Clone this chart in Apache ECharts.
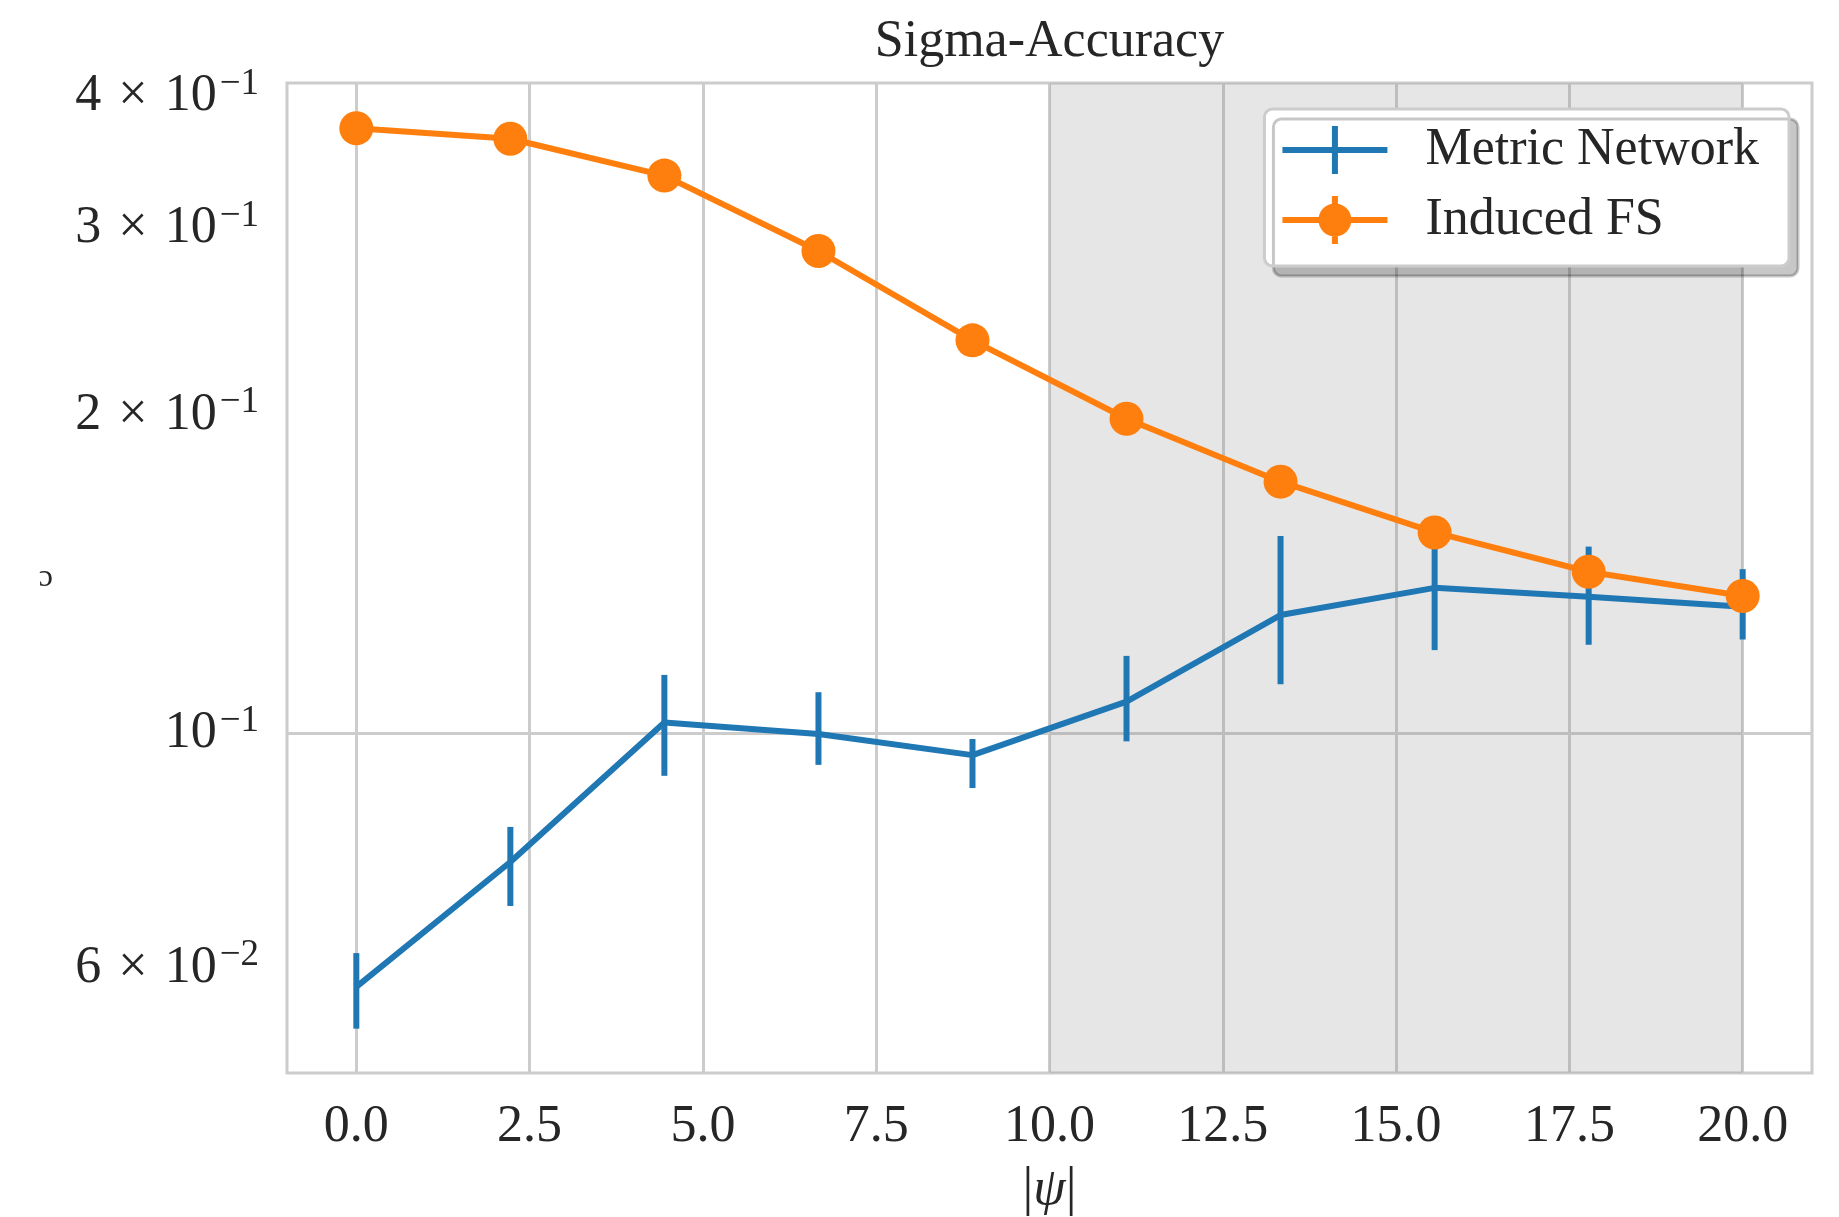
<!DOCTYPE html>
<html>
<head>
<meta charset="utf-8">
<script src="https://cdn.jsdelivr.net/npm/echarts@6/dist/echarts.min.js"></script>
<style>
html,body{margin:0;padding:0;background:#fff;}
#chart{width:1839px;height:1217px;}
</style>
</head>
<body>
<div id="chart"></div>
<script>
// ---- data ----
const psi = [0, 2.222, 4.444, 6.667, 8.889, 11.111, 13.333, 15.556, 17.778, 20];
const metricNetwork = [0.0576, 0.0756, 0.1024, 0.0999, 0.0954, 0.1072, 0.1294, 0.1373, 0.1347, 0.1318];
const metricNetworkLow = [0.0526, 0.0687, 0.0912, 0.0934, 0.0888, 0.0983, 0.1113, 0.1199, 0.1213, 0.1227];
const metricNetworkHigh = [0.0620, 0.0816, 0.1136, 0.1094, 0.0988, 0.1184, 0.1537, 0.1547, 0.1502, 0.1430];
const inducedFS = [0.3733, 0.3649, 0.3368, 0.2858, 0.2353, 0.1984, 0.1730, 0.1549, 0.1422, 0.1349];
const xTickValues = [0, 2.5, 5, 7.5, 10, 12.5, 15, 17.5, 20];
const xTickLabels = ['0.0', '2.5', '5.0', '7.5', '10.0', '12.5', '15.0', '17.5', '20.0'];
const yTickValues = [0.06, 0.1, 0.2, 0.3, 0.4];
const yTickLabels = ['6 × 10^−2', '10^−1', '2 × 10^−1', '3 × 10^−1', '4 × 10^−1'];
const yGridValues = [0.1];
const shadedRange = [10, 20];

const FONT = '"Liberation Serif", "DejaVu Serif", serif';
const TXT = '#262626';
const BLUE = '#1f77b4';
const ORANGE = '#ff7f0e';

const chart = echarts.init(document.getElementById('chart'), null, {renderer: 'canvas'});

function errItem(params, api) {
  const x = api.value(0), lo = api.value(1), hi = api.value(2);
  const p1 = api.coord([x, lo]);
  const p2 = api.coord([x, hi]);
  return {
    type: 'line',
    shape: {x1: p1[0], y1: p1[1], x2: p2[0], y2: p2[1]},
    style: {stroke: api.visual('color'), lineWidth: 6, lineCap: 'butt'}
  };
}

const blueIcon = 'path://M0,21 H105 V27 H0 Z M49.5,0 H55.5 V48 H49.5 Z M138,24 L138.05,24 L138.05,24.05 Z';
const orangeIcon = 'path://M0,21 H105 V27 H0 Z M49.5,0 H55.5 V48 H49.5 Z M36,24 A16.5,16.5 0 1 1 69,24 A16.5,16.5 0 1 1 36,24 Z M138,24 L138.05,24 L138.05,24.05 Z';

const option = {
  backgroundColor: '#ffffff',
  animation: false,
  title: {
    text: 'Sigma-Accuracy',
    left: 1049.5,
    textAlign: 'center',
    top: 16,
    padding: 0,
    textStyle: {fontFamily: FONT, fontSize: 52, fontWeight: 'normal', color: TXT}
  },
  grid: {
    left: 287, right: 27, top: 83, bottom: 144,
    outerBoundsMode: 'none',
    containLabel: false,
    show: true, borderColor: '#cccccc', borderWidth: 3, backgroundColor: 'transparent'
  },
  legend: {
    orient: 'vertical',
    right: 50,
    top: 109,
    padding: [15, 30, 20, 18],
    itemWidth: 138,
    itemHeight: 48,
    itemGap: 18,
    backgroundColor: '#ffffff',
    borderColor: '#cccccc',
    borderWidth: 3,
    borderRadius: 8,
    shadowColor: 'rgba(0,0,0,0.22)',
    shadowBlur: 0,
    shadowOffsetX: 9,
    shadowOffsetY: 10,
    itemStyle: {borderWidth: 0},
    textStyle: {fontFamily: FONT, fontSize: 52, color: TXT},
    data: [
      {name: 'Metric Network', icon: blueIcon},
      {name: 'Induced FS', icon: orangeIcon}
    ]
  },
  xAxis: {
    type: 'value',
    min: -1,
    max: 21,
    name: '{u||}{i|ψ}{u||}',
    nameLocation: 'middle',
    nameGap: 90,
    nameTextStyle: {
      rich: {
        u: {fontFamily: FONT, fontSize: 54, color: TXT},
        i: {fontFamily: FONT, fontSize: 52, fontStyle: 'italic', color: TXT}
      }
    },
    axisLine: {show: false},
    axisTick: {show: false, customValues: xTickValues},
    axisLabel: {
      customValues: xTickValues,
      margin: 28,
      fontFamily: FONT, fontSize: 52, color: TXT,
      formatter: function (v) {
        const i = xTickValues.findIndex(t => Math.abs(t - v) < 1e-6);
        return i >= 0 ? xTickLabels[i] : '';
      }
    },
    splitLine: {show: true, lineStyle: {color: '#cccccc', width: 3}}
  },
  yAxis: {
    type: 'log',
    logBase: 10,
    min: 0.04776,
    max: 0.4120,
    name: 'ɔ',
    nameLocation: 'middle',
    nameRotate: 0,
    nameGap: 234,
    nameTextStyle: {fontFamily: FONT, fontSize: 32, color: TXT},
    axisLine: {show: false},
    axisTick: {show: false, customValues: yGridValues},
    axisLabel: {
      customValues: yTickValues,
      margin: 28,
      formatter: function (v) {
        const i = yTickValues.findIndex(t => Math.abs(t - v) / t < 1e-4);
        if (i < 0) return '';
        const parts = yTickLabels[i].split('^');
        const head = parts[0].split(' × ');
        if (head.length === 2) {
          return '{m|' + head[0] + '}{x|×}{m|' + head[1] + '}{s|' + parts[1] + '}';
        }
        return '{m|' + parts[0] + '}{s|' + parts[1] + '}';
      },
      rich: {
        m: {fontFamily: FONT, fontSize: 52, lineHeight: 52, color: TXT},
        x: {fontFamily: FONT, fontSize: 52, lineHeight: 52, color: TXT, padding: [0, 17, 0, 17]},
        s: {fontFamily: FONT, fontSize: 37, lineHeight: 37, color: TXT, verticalAlign: 'bottom', padding: [0, 0, 20, 3]}
      }
    },
    splitLine: {show: true, lineStyle: {color: '#cccccc', width: 3}}
  },
  series: [
    {
      name: 'Metric Network',
      type: 'custom',
      z: 3,
      itemStyle: {color: BLUE},
      renderItem: errItem,
      encode: {x: 0, y: [1, 2]},
      data: psi.map((x, k) => [x, metricNetworkLow[k], metricNetworkHigh[k]]),
      markArea: {
        silent: true,
        itemStyle: {color: 'rgba(128,128,128,0.2)'},
        data: [[{xAxis: shadedRange[0]}, {xAxis: shadedRange[1]}]]
      }
    },
    {
      name: 'Metric Network',
      type: 'line',
      z: 4,
      symbol: 'none',
      color: BLUE,
      lineStyle: {color: BLUE, width: 6},
      data: psi.map((x, k) => [x, metricNetwork[k]])
    },
    {
      name: 'Induced FS',
      type: 'line',
      z: 6,
      symbol: 'circle',
      symbolSize: 34,
      color: ORANGE,
      itemStyle: {color: ORANGE, borderWidth: 0},
      lineStyle: {color: ORANGE, width: 6},
      data: psi.map((x, k) => [x, inducedFS[k]])
    }
  ]
};
chart.setOption(option);
</script>
</body>
</html>
